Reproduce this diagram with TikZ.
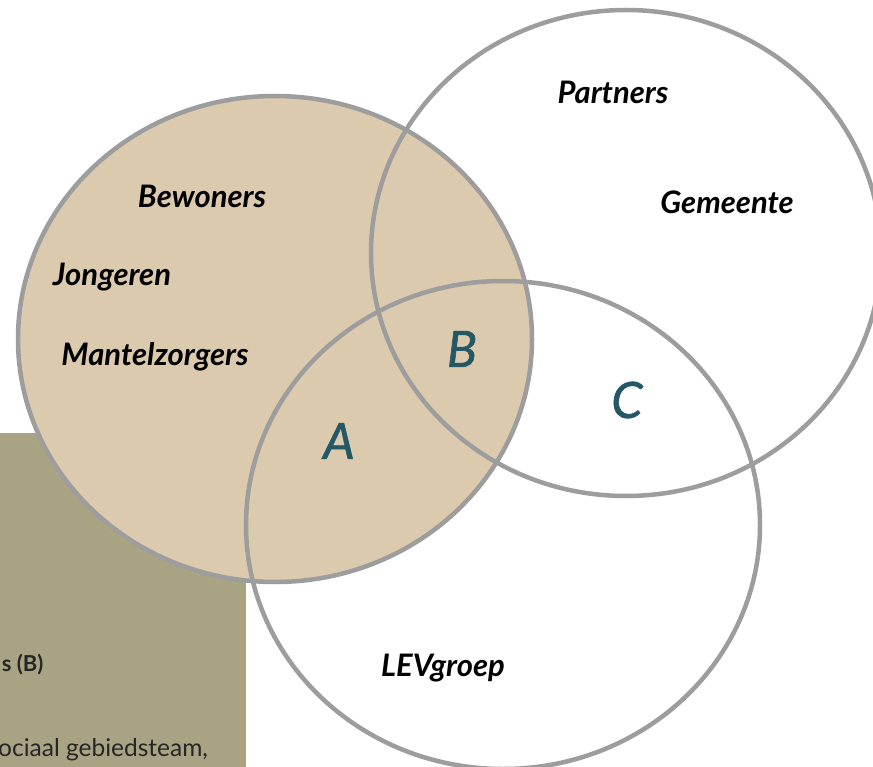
\documentclass[tikz,border=0pt]{standalone}
\usepackage{fontspec}
\setmainfont{Lato}
\newfontfamily\deelfont{Lato}[FakeBold=1.2]
\definecolor{zand}{HTML}{DCCAAF}
\definecolor{olijf}{HTML}{A8A383}
\definecolor{rand}{HTML}{9D9D9D}
\definecolor{petrol}{HTML}{245867}
\tikzset{
  groep/.style={font=\fontsize{31}{34}\selectfont\bfseries\itshape, text=black},
  deel/.style={font=\fontsize{50}{54}\selectfont\deelfont\itshape, text=petrol},
  cirkel/.style={draw=rand, line width=4.5pt}
}
\begin{document}
\begin{tikzpicture}[x=1pt,y=-1pt]
\useasboundingbox (0,0) rectangle (873,767);
\fill[white] (0,0) rectangle (873,767);

% kader links onder
\fill[olijf] (0,433) rectangle (246,767);
\node[anchor=east, font=\fontsize{22}{26}\selectfont\bfseries, text=black!85] (kop) at (47,665) {s (B)};
\node[anchor=west, font=\fontsize{24.5}{28}\selectfont, text=black!85, inner sep=0pt] (tekst) at (-2,750) {ociaal gebiedsteam,};

% cirkels
\fill[zand] (275,339) ellipse [x radius=257pt, y radius=243pt];
\draw[cirkel] (275,339) ellipse [x radius=257pt, y radius=243pt];
\draw[cirkel] (626,253) ellipse [x radius=255pt, y radius=243pt];
\draw[cirkel] (503,525) ellipse [x radius=257pt, y radius=244pt];

\node[groep] (bewoners) at (202,196) {Bewoners};
\node[groep] (jongeren) at (112,277) {Jongeren};
\node[groep] (mantel) at (155,357) {Mantelzorgers};
\node[groep] (partners) at (613,92) {Partners};
\node[groep] (gemeente) at (727,202) {Gemeente};
\node[groep] (lev) at (443,668) {LEVgroep};

\node[deel] (a) at (339,441) {A};
\node[deel] (b) at (462,349) {B};
\node[deel] (c) at (627,400) {C};

\end{tikzpicture}
\end{document}
